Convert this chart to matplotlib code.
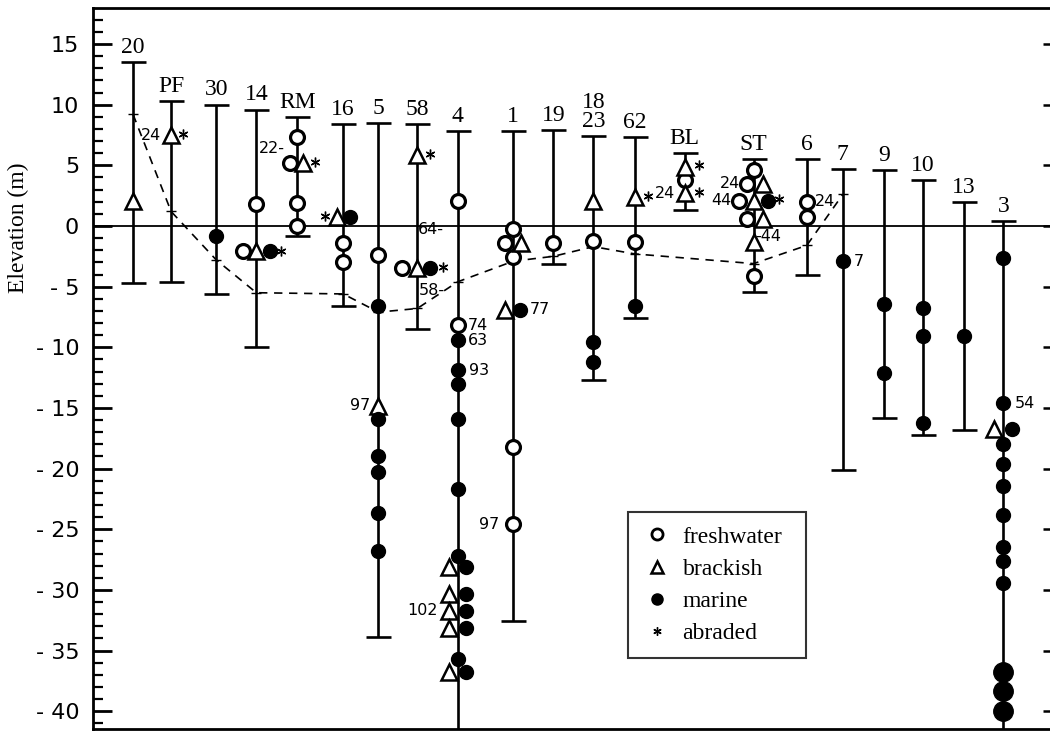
import matplotlib
matplotlib.use("Agg")
from matplotlib import pyplot as plt
from matplotlib.lines import Line2D
from matplotlib.ticker import MultipleLocator, FuncFormatter
import numpy as np

# core columns: name, top and bottom of the elevation range (m)
names = ['20', 'PF', '30', '14', 'RM', '16', '5', '58', '4', '1', '19', '18\n23',
         '62', 'BL', 'ST', '6', '7', '9', '10', '13', '3']
tops = [13.5, 10.3, 10.0, 9.6, 9.0, 8.4, 8.5, 8.4, 7.8, 7.8, 7.9, 7.4,
        7.3, 6.0, 5.5, 5.5, 4.7, 4.6, 3.8, 2.0, 0.4]
bottoms = [-4.7, -4.6, -5.6, -10.0, -0.8, -6.6, -33.9, -8.5, -50.0, -32.6, -3.1, -12.7,
           -7.6, 1.3, -5.4, -4.0, -20.1, -15.8, -17.2, -16.8, -50.0]

# dashed profile (column, elevation)
prof_col = ['20', 'PF', '30', '14', '16', '5', '58', '4', '1', '19', '18\n23', '62', 'ST', '6', '7']
prof_elev = [9.2, 1.2, -2.8, -5.5, -5.6, -7.1, -6.8, -4.6, -2.9, -2.5, -1.7, -2.3, -3.1, -1.6, 2.6]

# samples: column, elevation, side shift
fresh_col = ['14', '14', 'RM', 'RM', 'RM', 'RM', '16', '16', '5', '58', '4', '4',
             '1', '1', '1', '1', '1', '19', '18\n23', '62', 'BL',
             'ST', 'ST', 'ST', 'ST', 'ST', '6', '6']
fresh_elev = [1.8, -2.1, 7.3, 5.2, 1.9, 0.0, -1.4, -3.0, -2.4, -3.5, 2.05, -8.2,
              -0.25, -1.4, -2.55, -18.2, -24.6, -1.4, -1.25, -1.3, 3.8,
              4.6, 3.5, 2.1, 0.6, -4.1, 2.0, 0.75]
fresh_dx = [0, -13, 0, -7, 0, 0, 0, 0, 0, -15, 0, 0,
            0, -8, 0, 0, 0, 0, 0, 0, 0,
            0, -7, -15, -7, 0, 0, 0]

brack_col = ['20', 'PF', '14', 'RM', '16', '5', '58', '58', '4', '4', '4', '4', '4',
             '1', '1', '18\n23', '62', 'BL', 'BL', 'ST', 'ST', 'ST', 'ST', '3']
brack_elev = [2.1, 7.5, -2.1, 5.2, 0.75, -14.8, 5.85, -3.5, -28.1, -30.3, -31.7, -33.1, -36.8,
              -1.4, -6.9, 2.1, 2.4, 4.9, 2.7, 3.5, 2.1, 0.6, -1.3, -16.7]
brack_dx = [0, 0, 0, 6, -6, 0, 0, 0, -9, -9, -9, -9, -9,
            8, -8, 0, 0, 0, 0, 9, 0, 9, 0, -9]

marine_col = ['30', '14', '16', '5', '5', '5', '5', '5', '5', '58',
              '4', '4', '4', '4', '4', '4', '4', '4', '4', '4', '4', '4',
              '1', '18\n23', '18\n23', '62', 'ST', '7', '9', '9', '10', '10', '10', '13',
              '3', '3', '3', '3', '3', '3', '3', '3', '3', '3']
marine_elev = [-0.8, -2.1, 0.75, -6.6, -15.9, -19.0, -20.3, -23.7, -26.8, -3.5,
               -9.4, -11.9, -13.0, -15.9, -21.7, -27.2, -28.1, -30.3, -31.7, -33.1, -35.7, -36.8,
               -6.9, -9.6, -11.2, -6.6, 2.1, -2.9, -6.4, -12.1, -6.8, -9.1, -16.2, -9.1,
               -2.6, -14.6, -16.7, -18.0, -19.6, -21.4, -23.8, -26.5, -27.6, -29.4]
marine_dx = [0, 14, 7, 0, 0, 0, 0, 0, 0, 13,
             0, 0, 0, 0, 0, 0, 8, 8, 8, 8, 0, 8,
             7, 0, 0, 0, 14, 0, 0, 0, 0, 0, 0, 0,
             0, 0, 9, 0, 0, 0, 0, 0, 0, 0]
big_col = ['3', '3', '3']
big_elev = [-36.8, -38.3, -40.0]

abr_col = ['PF', '14', 'RM', '16', '58', '58', '62', 'BL', 'BL', 'ST']
abr_elev = [7.6, -2.1, 5.3, 0.85, 5.95, -3.4, 2.5, 5.0, 2.8, 2.2]
abr_dx = [12, 25, 18, -18, 13, 26, 13, 14, 14, 25]

# small number labels
lab_col = ['PF', 'RM', '58', '58', '5', '4', '4', '4', '4', '1', '1',
           'BL', 'ST', 'ST', 'ST', '6', '7', '3']
lab_elev = [7.5, 6.4, -0.3, -5.3, -14.8, -8.2, -9.4, -11.9, -31.7, -6.9, -24.6,
            2.7, 3.5, 2.1, -0.9, 2.0, -2.9, -14.6]
lab_text = ['24', '22-', '64-', '58-', '97', '74', '63', '93', '102', '77', '97',
            '24', '24', '44', '-44', '24', '7', '54']
lab_dx = [-10, -12, 1, 1, -8, 10, 10, 11, -20, 16, -14,
          -10, -13, -22, 2, 8, 11, 11]

# column positions along the section
xpos = [1.0, 1.95, 3.08, 4.08, 5.1, 6.25, 7.13, 8.1, 9.11, 10.5, 11.5, 12.5,
        13.53, 14.78, 16.5, 17.83, 18.73, 19.75, 20.73, 21.75, 22.74]
col_x = dict(zip(names, xpos))
PX = 1 / 40.0   # one pixel in x data units


def xs(cols, dxs=None):
    if dxs is None:
        dxs = [0] * len(cols)
    return np.array([col_x[c] + d * PX for c, d in zip(cols, dxs)])


serif = 'Liberation Serif'
sans = 'DejaVu Sans'
YLIM = (-41.47, 17.97)

fig = plt.figure(figsize=(10.5, 7.31), dpi=100)
ax = fig.add_axes([0.0886, 0.0027, 0.915, 0.9863])

# zero line
ax.axhline(0, color='black', lw=1.3, zorder=1)

# range bars
tops_a = np.array(tops)
bots_a = np.array(bottoms)
mid = (tops_a + bots_a) / 2
ax.errorbar(xpos, mid, yerr=(tops_a - bots_a) / 2, fmt='none', ecolor='black',
            elinewidth=1.9, capsize=9, capthick=1.9, zorder=2)

for x, t, n in zip(xpos, tops, names):
    ax.text(x, t + 0.35, n, ha='center', va='bottom', fontsize=17, family=serif,
            linespacing=0.9)

# dashed profile
ax.plot(xs(prof_col), prof_elev, color='black', lw=1.2, ls=(0, (5, 4)), zorder=3)
ax.plot(xs(prof_col), prof_elev, ls='none', marker='_', ms=7, mew=1.0, color='black', zorder=3)

ms_kw = dict(ls='none', zorder=5)
ax.plot(xs(fresh_col, fresh_dx), fresh_elev, marker='o', ms=10, mfc='white', mec='black',
        mew=2.3, **ms_kw)
ax.plot(xs(brack_col, brack_dx), brack_elev, marker='^', ms=11, mfc='white', mec='black',
        mew=1.8, **ms_kw)
ax.plot(xs(marine_col, marine_dx), marine_elev, marker='o', ms=10, mfc='black', mec='black',
        mew=1, **ms_kw)
ax.plot(xs(big_col), big_elev, marker='o', ms=14, mfc='black', mec='black', **ms_kw)
ax.plot(xs(abr_col, abr_dx), abr_elev, marker=(6, 2, 0), ms=7, mew=1.0, color='black', **ms_kw)

for c, e, t, d in zip(lab_col, lab_elev, lab_text, lab_dx):
    ax.text(col_x[c] + d * PX, e, t, ha='left' if d > 0 else 'right', va='center',
            fontsize=11.5, family=sans)

ax.set_xlim(0, 24)
ax.set_ylim(*YLIM)
ax.set_xticks([])
ax.yaxis.set_major_locator(MultipleLocator(5))
ax.yaxis.set_minor_locator(MultipleLocator(1))
ax.yaxis.set_major_formatter(FuncFormatter(
    lambda v, p: f"- {abs(int(round(v)))}" if v < 0 else f"{int(round(v))}"))
ax.tick_params(axis='y', which='major', direction='in', length=14, width=2,
               right=False, labelsize=16, pad=10)
ax.tick_params(axis='y', which='minor', direction='in', length=7, width=1.6, right=False)
for lab in ax.get_yticklabels():
    lab.set_family(sans)
for s in ax.spines.values():
    s.set_linewidth(2)
ax.set_ylabel('Elevation (m)', family=serif, fontsize=17)
ax.yaxis.set_label_coords(-0.067, 0.695)

# short ticks on the right side
axr = ax.twinx()
axr.set_ylim(*YLIM)
axr.yaxis.set_major_locator(MultipleLocator(5))
axr.yaxis.set_minor_locator(MultipleLocator(1))
axr.tick_params(axis='y', which='major', direction='in', length=8, width=1.8, labelright=False)
axr.tick_params(axis='y', which='minor', direction='in', length=2.5, width=1.2)
for s in axr.spines.values():
    s.set_visible(False)

handles = [
    Line2D([], [], ls='none', marker='o', ms=8, mfc='white', mec='black', mew=2),
    Line2D([], [], ls='none', marker='^', ms=8, mfc='white', mec='black', mew=1.8),
    Line2D([], [], ls='none', marker='o', ms=8, mfc='black', mec='black'),
    Line2D([], [], ls='none', marker=(6, 2, 0), ms=6, mew=1.0, color='black'),
]
leg = ax.legend(handles, ['freshwater', 'brackish', 'marine', 'abraded'],
                loc='lower left', bbox_to_anchor=(0.557, 0.098, 0.185, 0.215),
                mode='expand', prop={'family': serif, 'size': 17}, frameon=True,
                fancybox=False, edgecolor='black', handletextpad=0.5,
                labelspacing=0.45, borderaxespad=0, handlelength=1.2, borderpad=0.6)
leg.get_frame().set_linewidth(1.5)

fig.savefig('out.png', dpi=100)
